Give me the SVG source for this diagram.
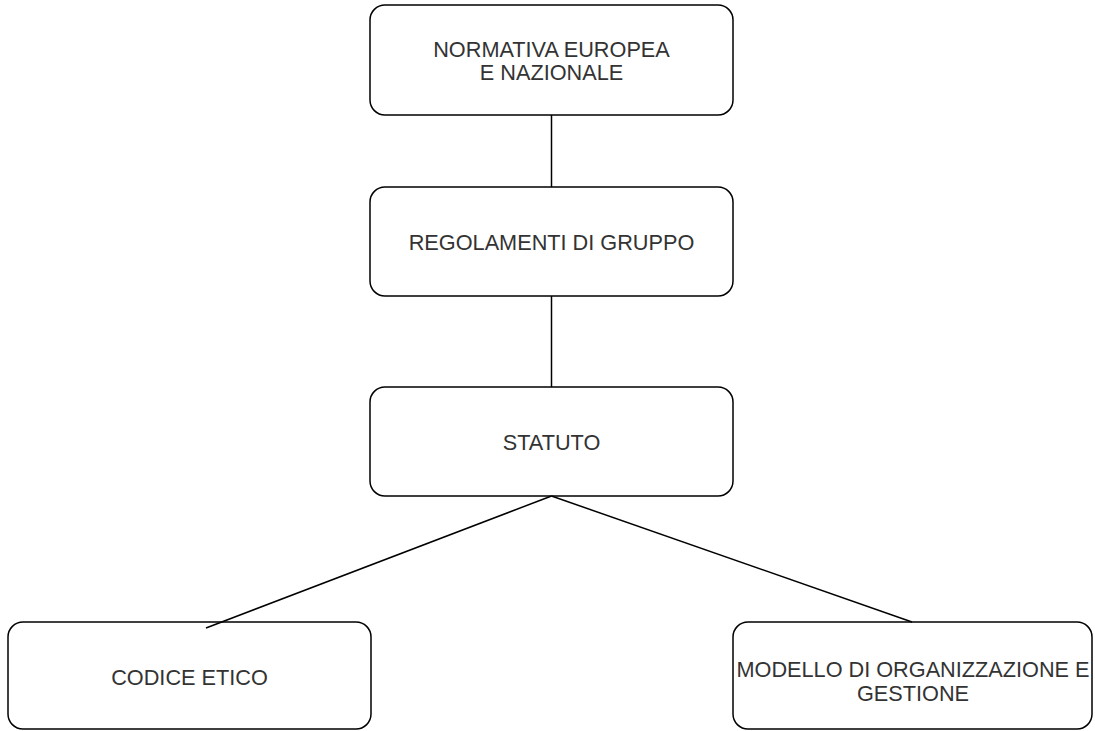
<svg xmlns="http://www.w3.org/2000/svg" width="1095" height="731" viewBox="0 0 1095 731">
<style>
.box{fill:#fff;stroke:#000;stroke-width:1.5}
.lbl{font-family:"Liberation Sans",Arial,Helvetica,sans-serif;font-size:21.7px;fill:#333;text-anchor:middle}
.conn{stroke:#000;stroke-width:1.5;fill:none}
</style>
<rect width="1095" height="731" fill="#fff"/>
<g id="normativa">
<rect class="box" x="370" y="5" width="363" height="110" rx="15"/>
<text class="lbl" x="551.5" y="56.5">NORMATIVA EUROPEA</text>
<text class="lbl" x="551.5" y="79.5">E NAZIONALE</text>
</g>
<g id="regolamenti">
<rect class="box" x="370" y="187" width="363" height="109" rx="15"/>
<text class="lbl" x="551.5" y="250">REGOLAMENTI DI GRUPPO</text>
</g>
<g id="statuto">
<rect class="box" x="370" y="387" width="363" height="109" rx="15"/>
<text class="lbl" x="551.5" y="450">STATUTO</text>
</g>
<g id="codice">
<rect class="box" x="8" y="622" width="363" height="107" rx="15"/>
<text class="lbl" x="189.5" y="684.5">CODICE ETICO</text>
</g>
<g id="modello">
<rect class="box" x="733" y="622" width="359" height="107" rx="15"/>
<text class="lbl" x="913" y="677">MODELLO DI ORGANIZZAZIONE E</text>
<text class="lbl" x="913" y="700.5">GESTIONE</text>
</g>
<g id="connectors">
<line class="conn" x1="551.5" y1="115" x2="551.5" y2="187"/>
<line class="conn" x1="551.5" y1="296" x2="551.5" y2="387"/>
<line class="conn" x1="551.5" y1="496" x2="206" y2="628"/>
<line class="conn" x1="551.5" y1="496" x2="912" y2="622"/>
</g>
</svg>
